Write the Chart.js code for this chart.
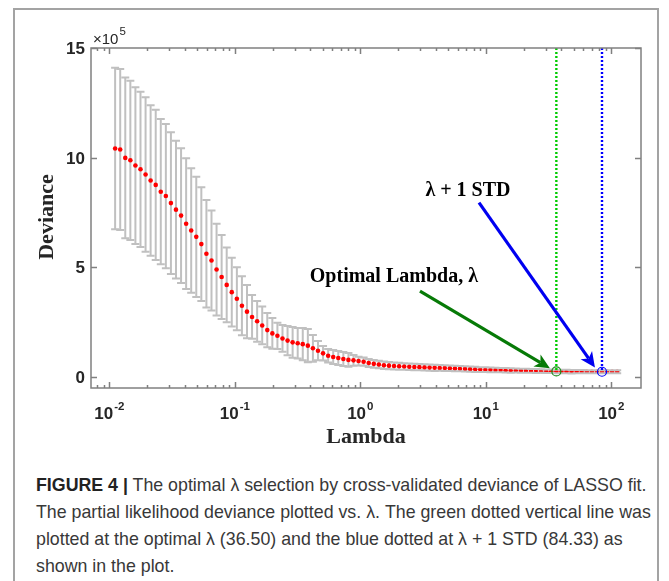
<!DOCTYPE html>
<html lang="en">
<head>
<meta charset="UTF-8" />
<title>LASSO cross-validated deviance</title>
<script src="https://cdn.jsdelivr.net/npm/chart.js"></script>
<style>
  body { margin: 0; background: #fff; width: 669px; height: 581px; overflow: hidden; position: relative;
         font-family: "Liberation Sans", Arial, sans-serif; }
  #frame { position: absolute; left: 13px; top: 8px; width: 646px; height: 600px;
           border: 2px solid #a3a3a3; box-sizing: border-box; }
  #chart { position: absolute; left: 0; top: 0; }
  #caption { position: absolute; left: 36px; top: 472px; font-size: 17.8px; line-height: 27px;
             color: #383838; white-space: nowrap; }
  #caption b { color: #222; }
</style>
</head>
<body>
  <div id="frame"></div>
  <canvas id="chart" width="669" height="470"></canvas>
  <div id="caption"><b>FIGURE 4 |</b> The optimal λ selection by cross-validated deviance of LASSO fit.<br>The partial likelihood deviance plotted vs. λ. The green dotted vertical line was<br>plotted at the optimal λ (36.50) and the blue dotted at λ + 1 STD (84.33) as<br>shown in the plot.</div>

<script>
  // lambda grid (100 values) and cross-validated deviance (x10^5) with its standard error
  const lambda = [
    0.01113, 0.01222, 0.01341, 0.01472, 0.01615, 0.01773, 0.01946, 0.02135, 0.02344, 0.02572,
    0.02823, 0.03098, 0.03400, 0.03732, 0.04096, 0.04495, 0.04933, 0.05414, 0.05942, 0.06522,
    0.07158, 0.07856, 0.08622, 0.09462, 0.1039, 0.1140, 0.1251, 0.1373, 0.1507, 0.1654,
    0.1815, 0.1992, 0.2186, 0.2400, 0.2633, 0.2890, 0.3172, 0.3481, 0.3821, 0.4193,
    0.4602, 0.5051, 0.5544, 0.6084, 0.6677, 0.7329, 0.8043, 0.8828, 0.9688, 1.063,
    1.167, 1.281, 1.406, 1.543, 1.693, 1.858, 2.040, 2.239, 2.457, 2.696,
    2.959, 3.248, 3.564, 3.912, 4.293, 4.712, 5.172, 5.676, 6.229, 6.837,
    7.504, 8.235, 9.038, 9.920, 10.89, 11.95, 13.12, 14.39, 15.80, 17.34,
    19.03, 20.88, 22.92, 25.15, 27.61, 30.30, 33.25, 36.50, 40.06, 43.96,
    48.25, 52.95, 58.11, 63.78, 70.00, 76.83, 84.33, 92.54, 101.6, 111.5
  ];
  const devMean = [
    10.42, 10.37, 9.99, 9.88, 9.64, 9.47, 9.23, 8.96, 8.76, 8.45,
    8.25, 7.93, 7.63, 7.36, 6.99, 6.68, 6.39, 6.06, 5.62, 5.31,
    4.90, 4.56, 4.20, 3.87, 3.57, 3.25, 2.98, 2.74, 2.54, 2.35,
    2.14, 1.99, 1.88, 1.76, 1.66, 1.58, 1.54, 1.50, 1.43, 1.31,
    1.20, 1.08, 0.97, 0.91, 0.87, 0.82, 0.78, 0.76, 0.73, 0.70,
    0.64, 0.60, 0.57, 0.54, 0.52, 0.50, 0.49, 0.48, 0.47, 0.46,
    0.45, 0.44, 0.43, 0.42, 0.415, 0.41, 0.40, 0.39, 0.38, 0.37,
    0.36, 0.35, 0.34, 0.335, 0.33, 0.32, 0.315, 0.31, 0.30, 0.295,
    0.29, 0.285, 0.28, 0.275, 0.27, 0.265, 0.26, 0.255, 0.25, 0.25,
    0.245, 0.245, 0.245, 0.24, 0.24, 0.24, 0.24, 0.24, 0.24, 0.24
  ];
  const devSE = [
    3.68, 3.67, 3.66, 3.63, 3.57, 3.54, 3.52, 3.43, 3.42, 3.31,
    3.29, 3.23, 3.14, 3.07, 2.98, 2.84, 2.74, 2.59, 2.45, 2.28,
    2.09, 1.92, 1.70, 1.57, 1.44, 1.34, 1.21, 1.00, 0.93, 0.86,
    0.78, 0.70, 0.60, 0.61, 0.67, 0.70, 0.69, 0.73, 0.76, 0.61,
    0.44, 0.33, 0.31, 0.32, 0.32, 0.32, 0.31, 0.25, 0.20, 0.19,
    0.18, 0.18, 0.17, 0.17, 0.16, 0.16, 0.16, 0.15, 0.15, 0.15,
    0.14, 0.14, 0.14, 0.14, 0.13, 0.13, 0.13, 0.13, 0.12, 0.12,
    0.12, 0.12, 0.11, 0.11, 0.11, 0.10, 0.10, 0.10, 0.10, 0.09,
    0.09, 0.09, 0.09, 0.09, 0.08, 0.08, 0.08, 0.08, 0.08, 0.08,
    0.08, 0.07, 0.07, 0.07, 0.07, 0.07, 0.07, 0.07, 0.07, 0.07
  ];
  const yTicks = [0, 5, 10, 15];
  const xDecades = [-2, -1, 0, 1, 2];
  const iMin = 87;   // optimal lambda = 36.50
  const i1SE = 96;   // lambda + 1 STD = 84.33

  const GREY = '#c0c0c0';
  const TEXT = '#262626';

  function arrow(ctx, x0, y0, x1, y1, color) {
    const a = Math.atan2(y1 - y0, x1 - x0), c = Math.cos(a), s = Math.sin(a);
    const L = 15, W = 7, N = 4;
    ctx.strokeStyle = color; ctx.fillStyle = color; ctx.lineWidth = 3.2;
    ctx.beginPath();
    ctx.moveTo(x0, y0);
    ctx.lineTo(x1 - (L - N) * c, y1 - (L - N) * s);
    ctx.stroke();
    ctx.beginPath();
    ctx.moveTo(x1, y1);
    ctx.lineTo(x1 - L * c + W * s, y1 - L * s - W * c);
    ctx.lineTo(x1 - (L - N) * c, y1 - (L - N) * s);
    ctx.lineTo(x1 - L * c - W * s, y1 - L * s + W * c);
    ctx.closePath();
    ctx.fill();
  }

  const errorBars = {
    id: 'errorBars',
    beforeDatasetsDraw(chart) {
      const { ctx, chartArea: a, scales: { x, y } } = chart;
      ctx.save();
      ctx.beginPath(); ctx.rect(a.left, a.top, a.width, a.height); ctx.clip();
      ctx.strokeStyle = GREY; ctx.lineWidth = 2;
      ctx.beginPath();
      lambda.forEach((l, i) => {
        const px = x.getPixelForValue(l);
        ctx.moveTo(px, y.getPixelForValue(devMean[i] + devSE[i]));
        ctx.lineTo(px, y.getPixelForValue(devMean[i] - devSE[i]));
      });
      ctx.stroke();
      ctx.restore();
    },
    afterDatasetDraw(chart, args) {
      if (args.index !== 0) return;
      const { ctx, scales: { x, y } } = chart;
      ctx.save();
      ctx.strokeStyle = GREY; ctx.lineWidth = 2;
      ctx.beginPath();
      lambda.forEach((l, i) => {
        const px = x.getPixelForValue(l);
        [devMean[i] + devSE[i], devMean[i] - devSE[i]].forEach(v => {
          const py = y.getPixelForValue(v);
          ctx.moveTo(px - 4, py); ctx.lineTo(px + 4, py);
        });
      });
      ctx.stroke();
      ctx.restore();
    }
  };

  const axesDecor = {
    id: 'axesDecor',
    afterDraw(chart) {
      const { ctx, chartArea: a, scales: { x, y } } = chart;
      ctx.save();
      // box
      ctx.strokeStyle = '#808080'; ctx.lineWidth = 1.5;
      ctx.strokeRect(a.left, a.top, a.right - a.left, a.bottom - a.top);
      // y ticks (inside, both sides)
      ctx.beginPath();
      yTicks.forEach(v => {
        const py = Math.round(y.getPixelForValue(v)) + 0.5;
        ctx.moveTo(a.left, py); ctx.lineTo(a.left + 6, py);
        ctx.moveTo(a.right, py); ctx.lineTo(a.right - 6, py);
      });
      // x ticks, major and minor
      for (let d = -3; d <= 2; d++) {
        for (let m = 1; m <= 9; m++) {
          const v = m * Math.pow(10, d);
          if (v < x.min || v > x.max) continue;
          const px = Math.round(x.getPixelForValue(v)) + 0.5;
          const len = m === 1 ? 6 : 3;
          ctx.moveTo(px, a.bottom); ctx.lineTo(px, a.bottom - len);
          ctx.moveTo(px, a.top); ctx.lineTo(px, a.top + len);
        }
      }
      ctx.stroke();

      // tick labels
      ctx.fillStyle = TEXT;
      ctx.font = 'bold 17px "Liberation Sans"';
      ctx.textAlign = 'right'; ctx.textBaseline = 'alphabetic';
      yTicks.forEach(v => ctx.fillText(String(v), a.left - 6, y.getPixelForValue(v) + 6));
      ctx.textAlign = 'left';
      xDecades.forEach(d => {
        const px = x.getPixelForValue(Math.pow(10, d));
        const sup = String(d);
        ctx.font = 'bold 17px "Liberation Sans"';
        const w1 = ctx.measureText('10').width;
        ctx.font = 'bold 11.5px "Liberation Sans"';
        const w2 = ctx.measureText(sup).width;
        const x0 = px - (w1 + w2 + 1) / 2;
        ctx.font = 'bold 17px "Liberation Sans"';
        ctx.fillText('10', x0, a.bottom + 31);
        ctx.font = 'bold 11.5px "Liberation Sans"';
        ctx.fillText(sup, x0 + w1 + 1, a.bottom + 22);
      });
      // exponent
      ctx.font = '15px "Liberation Sans"';
      ctx.fillText('\u00d710', a.left + 2, a.top - 4);
      const we = ctx.measureText('\u00d710').width;
      ctx.font = '11.5px "Liberation Sans"';
      ctx.fillText('5', a.left + 3 + we, a.top - 13);

      // axis titles
      ctx.font = 'bold 22px "Liberation Serif"';
      ctx.textAlign = 'center'; ctx.textBaseline = 'middle';
      ctx.fillText('Lambda', (a.left + a.right) / 2, 437);
      ctx.save();
      ctx.translate(47, 217);
      ctx.rotate(-Math.PI / 2);
      ctx.fillText('Deviance', 0, 0);
      ctx.restore();

      // annotations
      ctx.font = 'bold 20px "Liberation Serif"';
      ctx.fillStyle = '#000';
      ctx.fillText('\u03bb + 1 STD', x.getPixelForValue(7.21), y.getPixelForValue(8.48));
      ctx.fillText('Optimal Lambda, \u03bb', x.getPixelForValue(1.853), y.getPixelForValue(4.56));
      arrow(ctx, x.getPixelForValue(2.99), y.getPixelForValue(3.92),
                 x.getPixelForValue(32.4), y.getPixelForValue(0.40), '#077a07');
      arrow(ctx, x.getPixelForValue(8.83), y.getPixelForValue(7.95),
                 x.getPixelForValue(74.1), y.getPixelForValue(0.44), '#0000f0');
      ctx.restore();
    }
  };

  const pts = lambda.map((l, i) => ({ x: l, y: devMean[i] }));

  new Chart(document.getElementById('chart'), {
    type: 'scatter',
    data: {
      datasets: [
        { data: pts, order: 3, pointRadius: 2.3, pointBackgroundColor: '#ff0000', pointBorderWidth: 0 },
        { data: [{ x: lambda[iMin], y: 15 }, { x: lambda[iMin], y: devMean[iMin] }], order: 2,
          showLine: true, borderColor: '#00cc00', borderWidth: 2.4, borderDash: [2, 2], pointRadius: 0 },
        { data: [{ x: lambda[i1SE], y: 15 }, { x: lambda[i1SE], y: devMean[i1SE] }], order: 2,
          showLine: true, borderColor: '#0000ff', borderWidth: 2.4, borderDash: [2, 2], pointRadius: 0 },
        { data: [{ x: lambda[iMin], y: devMean[iMin] }], order: 1, pointRadius: 4.5,
          pointBackgroundColor: 'rgba(0,0,0,0)', pointBorderColor: '#1a8a1a', pointBorderWidth: 1.2 },
        { data: [{ x: lambda[i1SE], y: devMean[i1SE] }], order: 1, pointRadius: 4.5,
          pointBackgroundColor: 'rgba(0,0,0,0)', pointBorderColor: '#0000ff', pointBorderWidth: 1.2 }
      ]
    },
    options: {
      responsive: false,
      animation: false,
      devicePixelRatio: 1,
      events: [],
      layout: { padding: { top: 48, right: 28, left: 0, bottom: 0 } },
      plugins: { legend: { display: false }, tooltip: { enabled: false } },
      scales: {
        x: { type: 'logarithmic', min: 0.00715, max: 172.5,
             ticks: { display: false }, grid: { display: false }, border: { display: false },
             afterFit: s => { s.height = 82; } },
        y: { type: 'linear', min: -0.5, max: 15,
             ticks: { display: false }, grid: { display: false }, border: { display: false },
             afterFit: s => { s.width = 91; } }
      }
    },
    plugins: [errorBars, axesDecor]
  });
</script>
</body>
</html>
